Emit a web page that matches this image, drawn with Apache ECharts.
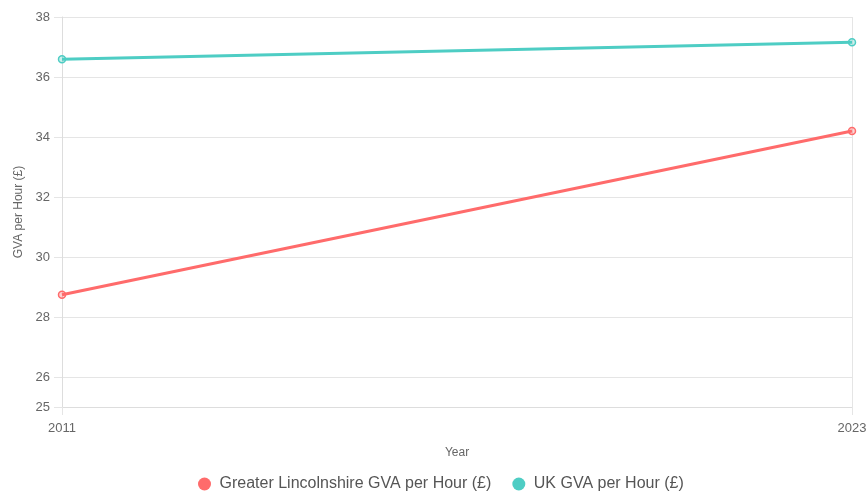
<!DOCTYPE html>
<html>
<head>
<meta charset="utf-8">
<script src="https://cdn.jsdelivr.net/npm/echarts@6/dist/echarts.min.js"></script>
<style>
  html, body { margin: 0; padding: 0; background: #fff; }
  #chart { width: 866px; height: 495px; }
</style>
</head>
<body>
<div id="chart"></div>
<script>
// years on the x axis
const years = ['2011', '2023'];
// GVA per hour (£)
const lincolnshire = [28.74, 34.2];
const uk = [36.59, 37.16];
// y axis ticks as drawn
const yTicks = [25, 26, 28, 30, 32, 34, 36, 38];

const chart = echarts.init(document.getElementById('chart'));

const gridColor = '#e5e5e5';
const textColor = '#666';
const font = 'Liberation Sans, Arial, Helvetica, sans-serif';

chart.setOption({
  animation: false,
  textStyle: { fontFamily: font },
  grid: { left: 62, right: 14, top: 17, bottom: 88, containLabel: false, outerBoundsMode: 'none' },
  legend: {
    bottom: 3,
    left: 198,
    padding: 0,
    icon: 'circle',
    itemWidth: 20,
    itemHeight: 13,
    itemGap: 21,
    textStyle: { fontSize: 16, color: '#555', fontFamily: font },
    data: [
      { name: 'Greater Lincolnshire GVA per Hour (£)', itemStyle: { color: '#ff6b6b', borderWidth: 0 } },
      { name: 'UK GVA per Hour (£)', itemStyle: { color: '#4ecdc4', borderWidth: 0 } }
    ]
  },
  xAxis: {
    type: 'category',
    data: years,
    boundaryGap: false,
    name: 'Year',
    nameLocation: 'middle',
    nameGap: 40,
    nameTextStyle: { fontSize: 12, color: textColor },
    axisLine: { lineStyle: { color: '#ddd' } },
    axisTick: { show: true, length: 8, lineStyle: { color: gridColor } },
    axisLabel: { fontSize: 13, color: textColor, margin: 15 },
    splitLine: { show: true, lineStyle: { color: gridColor } }
  },
  yAxis: {
    type: 'value',
    min: 25,
    max: 38,
    name: 'GVA per Hour (£)',
    nameLocation: 'middle',
    nameGap: 37,
    nameTextStyle: { fontSize: 12, color: textColor },
    axisLine: { show: true, lineStyle: { color: '#ddd' } },
    axisTick: { show: true, length: 8, customValues: yTicks, lineStyle: { color: gridColor } },
    axisLabel: { fontSize: 13, color: textColor, margin: 12, customValues: yTicks },
    splitLine: { show: true, customValues: yTicks, lineStyle: { color: gridColor } }
  },
  series: [
    {
      name: 'Greater Lincolnshire GVA per Hour (£)',
      type: 'line',
      data: lincolnshire,
      symbol: 'circle',
      symbolSize: 7,
      lineStyle: { color: '#ff6b6b', width: 3 },
      itemStyle: { color: 'rgba(255,107,107,0.3)', borderColor: '#ff6b6b', borderWidth: 1.5 }
    },
    {
      name: 'UK GVA per Hour (£)',
      type: 'line',
      data: uk,
      symbol: 'circle',
      symbolSize: 7,
      lineStyle: { color: '#4ecdc4', width: 3 },
      itemStyle: { color: 'rgba(78,205,196,0.3)', borderColor: '#4ecdc4', borderWidth: 1.5 }
    }
  ]
});
</script>
</body>
</html>
